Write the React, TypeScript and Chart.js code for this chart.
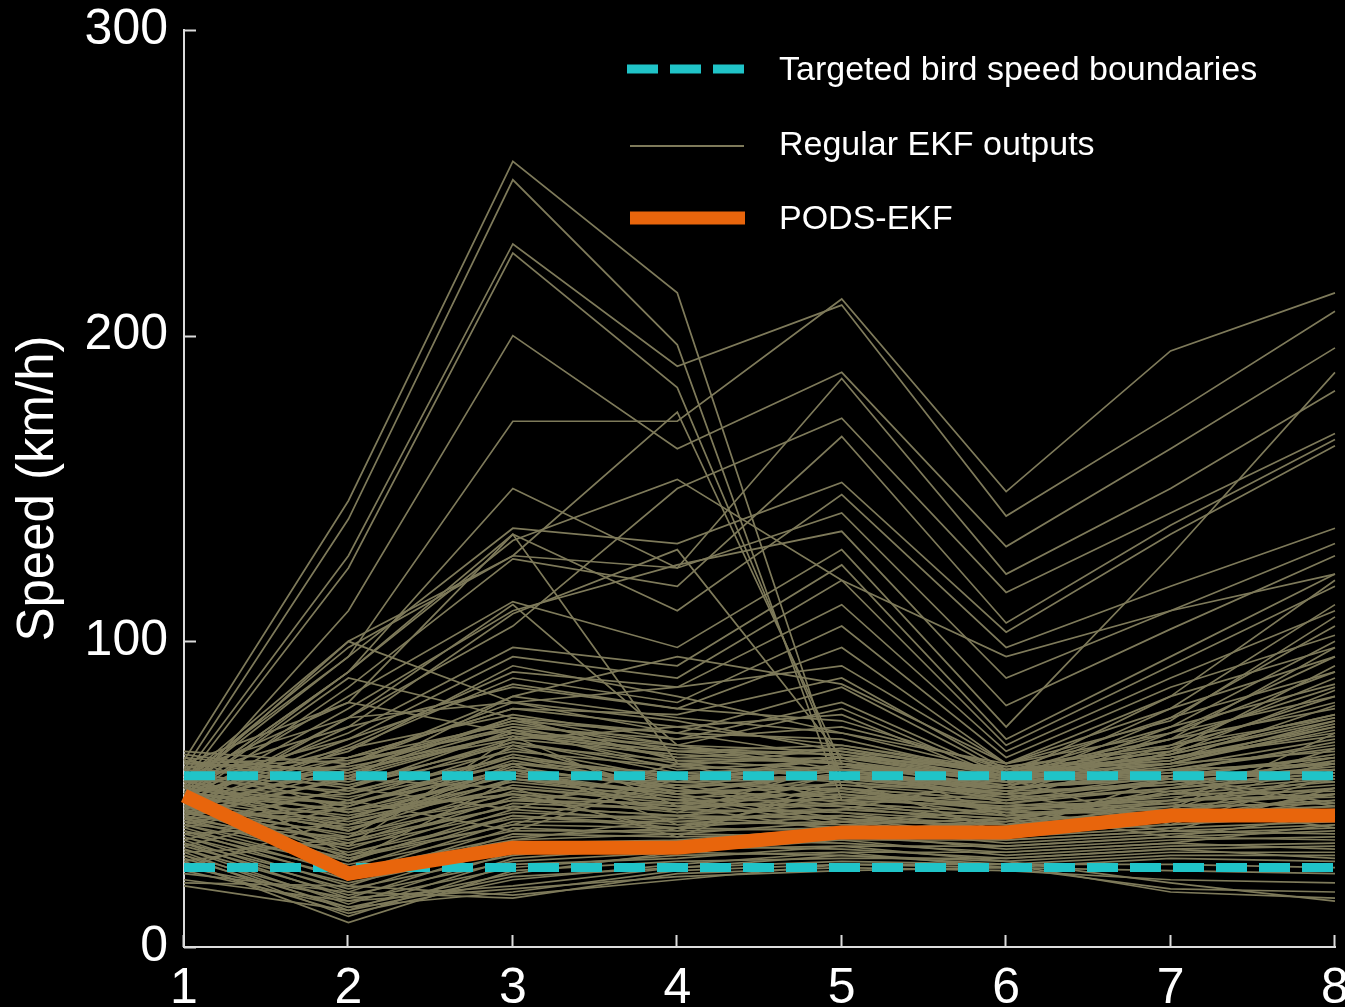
import React, { useEffect, useRef } from "react";
import { Chart, registerables } from "chart.js";

Chart.register(...registerables);

// ---------- data ----------
const steps = ["1", "2", "3", "4", "5", "6", "7", "8"];
const yTicks = [0, 100, 200, 300];
const legendLabels = ["Targeted bird speed boundaries", "Regular EKF outputs", "PODS-EKF"];

const upperBound = [56, 56, 56, 56, 56, 56, 56, 56];
const lowerBound = [26, 26, 26, 26, 26, 26, 26, 26];
const podsEkf = [49.5, 24, 32.5, 32.5, 37.5, 37.5, 43, 43];

// Regular EKF outputs: high-excursion tracks
const ekfHigh = [
  [61, 146, 257, 214, 52, 45, 48, 50],
  [58, 140, 251, 197, 48, 40, 44, 46],
  [56, 128, 230, 190, 210, 141, 174, 208],
  [54, 124, 227, 183, 56, 50, 53, 57],
  [50, 110, 200, 163, 188, 131, 163, 196],
  [55, 95, 172, 172, 212, 149, 195, 214],
  [52, 90, 150, 124, 186, 122, 150, 182],
  [47, 75, 105, 150, 173, 116, 142, 168],
  [54, 98, 128, 175, 60, 52, 56, 62],
];

// Regular EKF outputs: medium tracks
const ekfMid = [
  [52, 100, 80, 70, 62, 55, 58, 60],
  [50, 88, 75, 66, 60, 52, 56, 58],
  [55, 100, 128, 124, 142, 88, 110, 132],
  [53, 95, 137, 132, 152, 103, 135, 164],
  [50, 90, 135, 110, 148, 98, 118, 137],
  [48, 85, 127, 118, 167, 106, 138, 166],
  [50, 82, 113, 98, 130, 72, 128, 188],
  [48, 78, 110, 125, 136, 79, 104, 128],
  [52, 90, 133, 153, 120, 95, 110, 122],
  [50, 70, 98, 92, 125, 68, 95, 122],
  [48, 68, 95, 88, 120, 66, 92, 118],
  [46, 66, 90, 85, 112, 64, 88, 110],
  [45, 65, 88, 80, 105, 62, 85, 102],
  [47, 72, 85, 78, 98, 60, 82, 98],
  [44, 60, 80, 85, 92, 60, 78, 95],
  [46, 62, 78, 76, 88, 58, 75, 90],
  [43, 58, 75, 70, 85, 57, 72, 86],
  [45, 60, 72, 68, 80, 56, 70, 82],
  [42, 56, 70, 66, 78, 55, 68, 78],
  [44, 55, 82, 95, 86, 60, 74, 108],
  [40, 52, 68, 72, 76, 54, 66, 75],
  [60, 80, 135, 60, 55, 50, 54, 58],
  [58, 75, 112, 66, 58, 52, 55, 60],
  [56, 72, 109, 130, 62, 54, 57, 62],
  [50, 62, 78, 72, 66, 58, 62, 72],
  [48, 60, 82, 75, 70, 57, 64, 76],
  [52, 65, 76, 68, 72, 59, 66, 80],
  [46, 58, 74, 70, 68, 56, 60, 74],
  [54, 68, 86, 78, 74, 58, 68, 85],
  [50, 64, 92, 82, 70, 60, 70, 90],
  [45, 75, 80, 74, 64, 55, 63, 84],
  [56, 80, 70, 64, 60, 54, 58, 65],
];

// Regular EKF outputs: tracks fanning upward at the end
const ekfFan = [
  [46, 40, 55, 50, 58, 50, 70, 95],
  [44, 42, 52, 48, 56, 52, 72, 100],
  [48, 38, 58, 52, 60, 54, 78, 112],
  [42, 45, 50, 46, 54, 50, 66, 88],
  [50, 47, 60, 54, 62, 56, 82, 120],
  [40, 36, 48, 45, 52, 48, 64, 92],
  [52, 44, 56, 50, 57, 53, 75, 105],
  [47, 50, 62, 55, 59, 55, 68, 98],
];

// Regular EKF outputs: dense band near the true speed
const ekfBand = [
  [64, 60, 74, 64, 63, 57, 61, 79],
  [62, 57, 72, 62, 65, 56, 63, 75],
  [61, 55, 70, 60, 62, 58, 60, 72],
  [60, 58, 68, 63, 60, 55, 62, 70],
  [59, 52, 71, 58, 61, 54, 59, 68],
  [58, 54, 66, 61, 58, 56, 58, 66],
  [57, 50, 67, 57, 59, 53, 60, 64],
  [56, 53, 64, 59, 57, 52, 57, 67],
  [56, 48, 65, 55, 56, 54, 56, 62],
  [55, 51, 62, 56, 58, 51, 58, 60],
  [54, 46, 63, 54, 55, 52, 55, 63],
  [53, 49, 60, 57, 54, 50, 54, 59],
  [53, 44, 61, 52, 56, 49, 56, 57],
  [52, 47, 58, 53, 53, 51, 53, 61],
  [51, 42, 59, 51, 52, 48, 52, 56],
  [50, 45, 56, 54, 51, 47, 54, 58],
  [50, 40, 57, 50, 53, 49, 51, 55],
  [49, 43, 54, 49, 50, 46, 50, 54],
  [48, 38, 55, 51, 49, 47, 52, 57],
  [48, 41, 52, 47, 51, 45, 49, 53],
  [47, 36, 53, 48, 48, 46, 48, 52],
  [46, 39, 50, 46, 47, 44, 50, 51],
  [46, 34, 51, 45, 49, 45, 47, 55],
  [45, 37, 48, 47, 46, 43, 46, 50],
  [44, 32, 49, 44, 45, 42, 48, 49],
  [44, 35, 46, 43, 47, 44, 45, 48],
  [43, 30, 47, 45, 44, 41, 44, 52],
  [42, 33, 44, 42, 43, 40, 46, 47],
  [42, 28, 45, 41, 45, 42, 43, 46],
  [41, 31, 42, 43, 42, 39, 42, 45],
  [40, 26, 43, 40, 41, 40, 44, 44],
  [40, 29, 40, 39, 43, 38, 41, 48],
  [39, 24, 41, 41, 40, 37, 40, 43],
  [38, 27, 38, 38, 39, 39, 42, 42],
  [38, 22, 39, 37, 41, 36, 39, 41],
  [37, 25, 36, 39, 38, 35, 38, 40],
  [36, 20, 37, 36, 37, 37, 40, 44],
  [36, 23, 34, 35, 39, 34, 37, 39],
  [35, 18, 35, 37, 36, 33, 36, 38],
  [34, 21, 32, 34, 35, 35, 38, 37],
  [34, 16, 33, 33, 37, 32, 35, 36],
  [33, 19, 30, 35, 34, 31, 34, 40],
  [32, 14, 31, 32, 33, 33, 36, 35],
  [32, 17, 28, 31, 35, 30, 33, 34],
  [31, 12, 29, 33, 32, 29, 32, 33],
  [30, 15, 26, 30, 31, 31, 34, 32],
  [30, 10, 27, 29, 33, 28, 31, 31],
  [29, 13, 24, 31, 30, 27, 30, 30],
  [28, 8, 25, 28, 29, 29, 32, 29],
  [27, 11, 22, 27, 31, 26, 29, 28],
  [26, 16, 20, 26, 28, 27, 27, 26],
  [25, 13, 18, 25, 27, 26, 25, 24],
  [24, 18, 16, 24, 26, 25, 22, 21],
  [22, 15, 19, 23, 25, 26, 19, 18],
  [21, 20, 17, 22, 27, 27, 18, 16],
  [20, 12, 23, 26, 30, 28, 21, 15],
  [45, 28, 55, 48, 40, 42, 50, 60],
  [33, 46, 62, 52, 44, 38, 48, 65],
  [58, 30, 40, 56, 47, 50, 41, 50],
  [26, 42, 58, 44, 60, 47, 43, 58],
  [52, 25, 35, 42, 57, 48, 55, 46],
  [28, 36, 66, 50, 42, 36, 45, 70],
  [62, 44, 50, 38, 52, 44, 36, 43],
  [39, 52, 45, 60, 48, 53, 58, 54],
  [47, 33, 69, 46, 38, 41, 52, 62],
  [35, 48, 38, 55, 62, 43, 47, 39],
  [55, 38, 60, 40, 45, 55, 40, 56],
  [43, 55, 52, 36, 55, 37, 56, 47],
  [60, 62, 73, 66, 64, 58, 64, 76],
  [57, 59, 69, 64, 66, 57, 61, 73],
  [63, 56, 75, 61, 62, 59, 65, 82],
  [59, 61, 71, 65, 63, 55, 60, 71],
  [61, 53, 67, 59, 65, 57, 62, 69],
  [54, 57, 70, 62, 60, 56, 63, 74],
  [41, 47, 57, 49, 41, 45, 38, 52],
  [37, 40, 48, 53, 46, 40, 51, 44],
  [49, 29, 43, 39, 50, 43, 45, 61],
  [31, 34, 46, 43, 39, 46, 42, 50],
];

// ---------- styles ----------
const FONT = "'Liberation Sans', Arial, Helvetica, sans-serif";
const OLIVE = "#7e7a5a";
const CYAN = "#20c4c8";
const ORANGE = "#e8650c";
const AXIS = "#dcdcdc";

const innerTicksAndLegend = {
  id: "innerTicksAndLegend",
  afterDraw(chart: any) {
    const { ctx, chartArea, scales } = chart;
    const xs = scales.x;
    const ys = scales.y;
    ctx.save();
    // inward tick marks
    ctx.strokeStyle = AXIS;
    ctx.lineWidth = 2;
    ctx.setLineDash([]);
    ctx.beginPath();
    ys.ticks.forEach((t: any) => {
      const py = Math.round(ys.getPixelForValue(t.value)) + 0.5;
      ctx.moveTo(chartArea.left, py);
      ctx.lineTo(chartArea.left + 12, py);
    });
    steps.forEach((_, i) => {
      const px = Math.round(xs.getPixelForValue(i)) - 0.5;
      ctx.moveTo(px, chartArea.bottom);
      ctx.lineTo(px, chartArea.bottom - 12);
    });
    ctx.stroke();

    // legend
    const sx0 = 627;
    const sx1 = 744;
    const tx = 779;
    const rows = [71, 146, 220];
    ctx.lineCap = "butt";
    // cyan dashed
    ctx.strokeStyle = CYAN;
    ctx.lineWidth = 9;
    ctx.setLineDash([31, 12]);
    ctx.beginPath();
    ctx.moveTo(sx0, rows[0] - 2);
    ctx.lineTo(sx1, rows[0] - 2);
    ctx.stroke();
    ctx.setLineDash([]);
    // olive
    ctx.strokeStyle = OLIVE;
    ctx.lineWidth = 2;
    ctx.beginPath();
    ctx.moveTo(sx0 + 3, rows[1]);
    ctx.lineTo(sx1, rows[1]);
    ctx.stroke();
    // orange
    ctx.strokeStyle = ORANGE;
    ctx.lineWidth = 13;
    ctx.beginPath();
    ctx.moveTo(sx0 + 3, rows[2] - 2);
    ctx.lineTo(sx1 + 1, rows[2] - 2);
    ctx.stroke();
    // texts
    ctx.fillStyle = "#ffffff";
    ctx.font = `34px ${FONT}`;
    ctx.textBaseline = "middle";
    ctx.textAlign = "left";
    legendLabels.forEach((lbl, i) => {
      ctx.fillText(lbl, tx, rows[i]);
    });
    ctx.restore();
  },
};

export default function App() {
  const canvasRef = useRef<HTMLCanvasElement | null>(null);

  useEffect(() => {
    const canvas = canvasRef.current;
    if (!canvas) return;

    const olive = [...ekfHigh, ...ekfMid, ...ekfFan, ...ekfBand].map((d) => ({
      label: legendLabels[1],
      data: d,
      borderColor: OLIVE,
      borderWidth: 1.7,
      order: 2,
    }));

    const chart = new Chart(canvas, {
      type: "line",
      data: {
        labels: steps,
        datasets: [
          {
            label: legendLabels[2],
            data: podsEkf,
            borderColor: ORANGE,
            borderWidth: 14,
            order: 0,
          },
          {
            label: legendLabels[0],
            data: upperBound,
            borderColor: CYAN,
            borderWidth: 9,
            borderDash: [31, 12],
            order: 1,
          },
          {
            label: legendLabels[0],
            data: lowerBound,
            borderColor: CYAN,
            borderWidth: 9,
            borderDash: [31, 12],
            order: 1,
          },
          ...olive,
        ] as any,
      },
      options: {
        responsive: false,
        animation: false,
        events: [],
        layout: { padding: { top: 30, right: 10, left: 0, bottom: 0 } },
        plugins: {
          legend: { display: false },
          tooltip: { enabled: false },
        },
        elements: {
          point: { radius: 0 },
          line: { tension: 0, borderCapStyle: "butt", borderJoinStyle: "miter", fill: false },
        },
        scales: {
          x: {
            type: "category",
            grid: { display: false, drawTicks: false },
            border: { display: true, color: AXIS, width: 2 },
            ticks: {
              color: "#ffffff",
              font: { family: FONT, size: 50 },
              padding: 12,
              maxRotation: 0,
              autoSkip: false,
            },
            afterFit: (s: any) => {
              s.height = 60;
              s.paddingLeft = 0;
              s.paddingRight = 0;
            },
          },
          y: {
            type: "linear",
            min: 0,
            max: 300,
            afterBuildTicks: (s: any) => {
              s.ticks = yTicks.map((v) => ({ value: v }));
            },
            grid: { display: false, drawTicks: false },
            border: { display: true, color: AXIS, width: 2 },
            ticks: {
              color: "#ffffff",
              font: { family: FONT, size: 50 },
              padding: 16,
            },
            title: {
              display: true,
              text: "Speed (km/h)",
              color: "#ffffff",
              font: { family: FONT, size: 51 },
              padding: { top: 8, bottom: 0 },
            },
            afterFit: (s: any) => {
              s.width = 184;
              s.paddingTop = 0;
              s.paddingBottom = 0;
            },
          },
        },
      } as any,
      plugins: [innerTicksAndLegend],
    });

    return () => {
      chart.destroy();
    };
  }, []);

  return (
    <div
      style={{
        position: "fixed",
        left: 0,
        top: 0,
        width: 1345,
        height: 1007,
        background: "#000000",
        overflow: "hidden",
      }}
    >
      <canvas ref={canvasRef} width={1345} height={1007} style={{ display: "block" }} />
    </div>
  );
}
